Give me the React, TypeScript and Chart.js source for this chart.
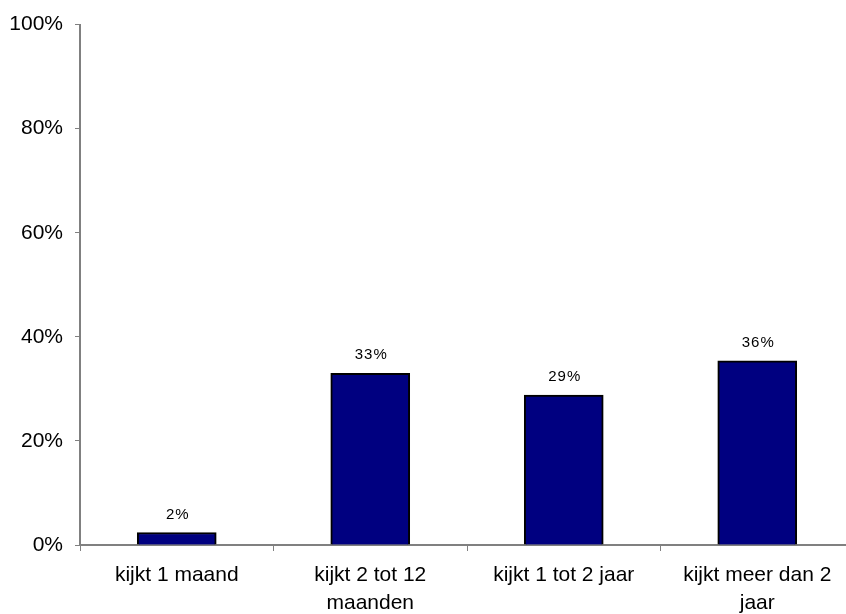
import React, { useEffect, useRef } from "react";
import { Chart, registerables } from "chart.js";

Chart.register(...registerables);

const categories: string[][] = [
  ["kijkt 1 maand"],
  ["kijkt 2 tot 12", "maanden"],
  ["kijkt 1 tot 2 jaar"],
  ["kijkt meer dan 2", "jaar"],
];
const values: number[] = [2.4, 33.0, 28.8, 35.4];
const valueLabels: string[] = ["2%", "33%", "29%", "36%"];
const yTicks: number[] = [0, 20, 40, 60, 80, 100];

const FONT = "'Liberation Sans', Arial, sans-serif";

const labelPlugin = {
  id: "valueLabels",
  afterDatasetsDraw(chart: any) {
    const ctx = chart.ctx;
    const meta = chart.getDatasetMeta(0);
    ctx.save();
    ctx.font = `15px ${FONT}`;
    try {
      (ctx as any).letterSpacing = "1px";
    } catch (e) {}
    ctx.fillStyle = "#000";
    ctx.textAlign = "center";
    ctx.textBaseline = "alphabetic";
    meta.data.forEach((el: any, i: number) => {
      ctx.fillText(valueLabels[i], el.x + 1, el.y - 14);
    });
    ctx.restore();
  },
};

export default function App() {
  const ref = useRef<HTMLCanvasElement | null>(null);
  useEffect(() => {
    if (!ref.current) return;
    const chart = new Chart(ref.current, {
      type: "bar",
      data: {
        labels: categories,
        datasets: [
          {
            data: values,
            backgroundColor: "#000080",
            borderColor: "#000000",
            borderWidth: 2,
            barThickness: 79,
          },
        ],
      },
      options: {
        animation: false,
        responsive: false,
        maintainAspectRatio: false,
        layout: { padding: { top: 24, right: 2, left: 0, bottom: 0 } },
        plugins: {
          legend: { display: false },
          tooltip: { enabled: false },
        },
        scales: {
          x: {
            offset: true,
            grid: {
              display: true,
              offset: true,
              drawOnChartArea: false,
              drawTicks: true,
              tickLength: 6,
              color: "#808080",
            },
            border: { display: true, color: "#808080", width: 2 },
            ticks: {
              font: { family: FONT, size: 21, lineHeight: 1.3 },
              color: "#000",
              padding: 11,
              maxRotation: 0,
              autoSkip: false,
            },
            afterFit(scale: any) {
              scale.height = 614 - 545;
            },
          },
          y: {
            min: 0,
            max: 100,
            afterBuildTicks(scale: any) {
              scale.ticks = yTicks.map((v) => ({ value: v }));
            },
            grid: {
              display: true,
              drawOnChartArea: false,
              drawTicks: true,
              tickLength: 5,
              color: "#808080",
            },
            border: { display: true, color: "#808080", width: 2 },
            ticks: {
              font: { family: FONT, size: 21 },
              color: "#000",
              padding: 12,
              callback: (v: any) => `${v}%`,
            },
            afterFit(scale: any) {
              scale.width = 80;
            },
          },
        },
      },
      plugins: [labelPlugin],
    });
    return () => chart.destroy();
  }, []);
  return (
    <div
      style={{
        position: "fixed",
        left: 0,
        top: 0,
        width: 846,
        height: 614,
        overflow: "hidden",
        background: "#fff",
      }}
    >
      <canvas ref={ref} width={856} height={614} style={{ width: 856, height: 614, display: "block" }} />
    </div>
  );
}
